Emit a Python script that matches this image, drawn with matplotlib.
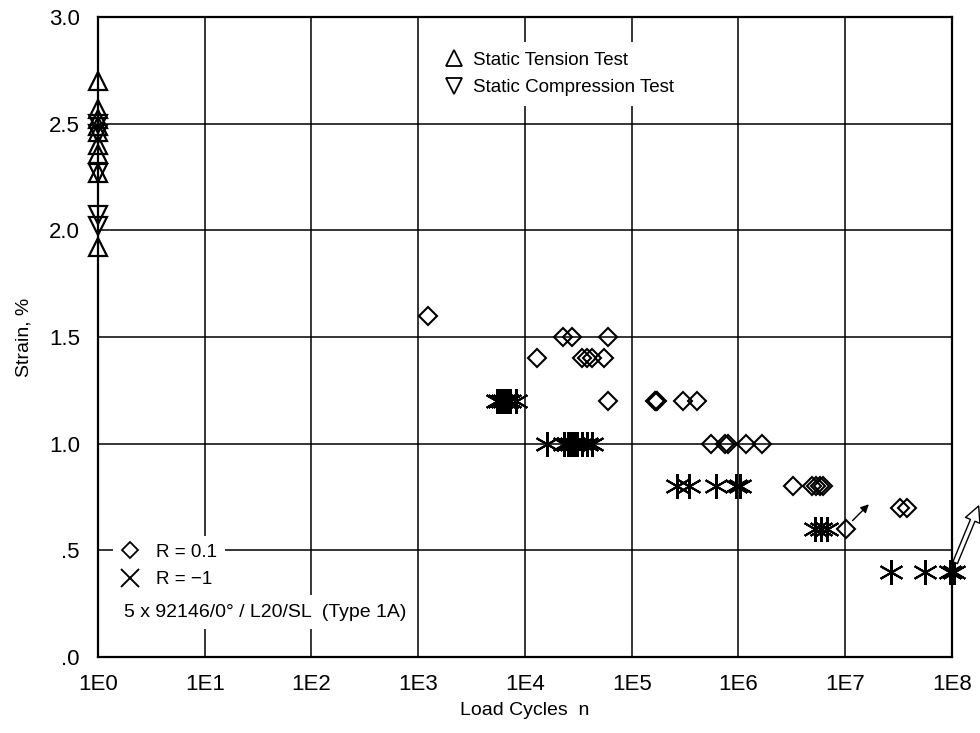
import matplotlib
matplotlib.use("Agg")
import matplotlib.pyplot as plt
from matplotlib.lines import Line2D
import numpy as np

plt.rcParams['font.family'] = ['Liberation Sans', 'DejaVu Sans']

# ---- data (log10 of load cycles, strain %) ----
tension_strain = [2.70, 2.57, 2.52, 2.49, 2.46, 2.40, 2.36, 2.27, 1.92]
compression_strain = [2.50, 2.45, 2.27, 2.07, 2.02]

r01_logn = [3.09, 4.11, 4.36, 4.44, 4.78, 4.53, 4.58, 4.63, 4.74, 4.78,
            5.22, 5.23, 5.24, 5.48, 5.61,
            5.74, 5.87, 5.90, 6.07, 6.22,
            6.51, 6.69, 6.73, 6.76, 6.79,
            7.51, 7.58, 7.01]
r01_strain = [1.60, 1.40, 1.50, 1.50, 1.50, 1.40, 1.40, 1.40, 1.40, 1.20,
              1.20, 1.20, 1.20, 1.20, 1.20,
              1.00, 1.00, 1.00, 1.00, 1.00,
              0.80, 0.80, 0.80, 0.80, 0.80,
              0.70, 0.70, 0.60]

rm1_logn = [3.74, 3.76, 3.78, 3.80, 3.82, 3.84, 3.86, 3.92,
            4.21, 4.37, 4.40, 4.43, 4.46, 4.49, 4.53, 4.58, 4.63,
            5.42, 5.54, 5.79, 5.98, 6.01,
            6.72, 6.77, 6.83,
            7.43, 7.75, 7.98, 8.02]
rm1_strain = [1.20, 1.20, 1.20, 1.20, 1.20, 1.20, 1.20, 1.20,
              1.00, 1.00, 1.00, 1.00, 1.00, 1.00, 1.00, 1.00, 1.00,
              0.80, 0.80, 0.80, 0.80, 0.80,
              0.60, 0.60, 0.60,
              0.40, 0.40, 0.40, 0.40]

x_ticks = [1e0, 1e1, 1e2, 1e3, 1e4, 1e5, 1e6, 1e7, 1e8]
x_ticklabels = ["1E0", "1E1", "1E2", "1E3", "1E4", "1E5", "1E6", "1E7", "1E8"]
y_ticks = [0.0, 0.5, 1.0, 1.5, 2.0, 2.5, 3.0]
y_ticklabels = [".0", ".5", "1.0", "1.5", "2.0", "2.5", "3.0"]

fig = plt.figure(figsize=(9.8, 7.33), dpi=100)
ax = fig.add_axes([0.1, 0.1037, 0.8714, 0.8731])

ax.set_xscale('log')
ax.set_xlim(1e0, 1e8)
ax.set_ylim(0, 3.0)
ax.set_xticks(x_ticks)
ax.set_xticklabels(x_ticklabels)
ax.set_yticks(y_ticks)
ax.set_yticklabels(y_ticklabels)
ax.minorticks_off()
ax.tick_params(axis='x', length=0, labelsize=16, pad=12)
ax.tick_params(axis='y', length=0, labelsize=16, pad=13)
ax.grid(True, color='black', lw=1.1)
ax.set_axisbelow(True)
for s in ax.spines.values():
    s.set_linewidth(1.6)

ax.set_xlabel("Load Cycles  n", fontsize=14, labelpad=5)
ax.set_ylabel("Strain, %", fontsize=14, labelpad=12)

star = (6, 2, 0)
ax.plot([1.0] * len(tension_strain), tension_strain, ls='none', marker='^',
        ms=13, mfc='none', mec='black', mew=1.6, clip_on=False, zorder=3)
ax.plot([1.0] * len(compression_strain), compression_strain, ls='none', marker='v',
        ms=13, mfc='none', mec='black', mew=1.6, clip_on=False, zorder=3)

ax.plot(10 ** np.array(r01_logn), r01_strain, ls='none', marker='D',
        ms=9.5, mfc='none', mec='black', mew=1.5, clip_on=False, zorder=3)
ax.plot(10 ** np.array(rm1_logn), rm1_strain, ls='none', marker=star,
        ms=18, mfc='none', mec='black', mew=1.5, clip_on=False, zorder=3)

# run-out arrows
ax.annotate("", xy=(10 ** 7.24, 0.725), xytext=(10 ** 7.05, 0.63),
            arrowprops=dict(arrowstyle='-|>', color='black', lw=1.0,
                            mutation_scale=12), annotation_clip=False)
ax.annotate("", xy=(10 ** 8.26, 0.72), xytext=(10 ** 8.02, 0.43),
            arrowprops=dict(arrowstyle='simple,head_width=0.8,head_length=0.8,tail_width=0.25',
                            fc='white', ec='black', lw=1.0, mutation_scale=14),
            annotation_clip=False)

# legends
h_static = [Line2D([], [], ls='none', marker='^', ms=11, mfc='none', mec='black', mew=1.3),
            Line2D([], [], ls='none', marker='v', ms=11, mfc='none', mec='black', mew=1.3)]
leg1 = ax.legend(h_static, ["Static Tension Test", "Static Compression Test"],
                 loc='upper left', bbox_to_anchor=(0.386, 0.975), frameon=True,
                 fontsize=13.5, handlelength=0.8, handletextpad=0.6,
                 labelspacing=0.55, borderpad=0.5)
leg1.get_frame().set_facecolor('white')
leg1.get_frame().set_edgecolor('none')
leg1.get_frame().set_alpha(1)
ax.add_artist(leg1)

h_r = [Line2D([], [], ls='none', marker='D', ms=8.5, mfc='none', mec='black', mew=1.3),
       Line2D([], [], ls='none', marker='x', ms=13, mfc='none', mec='black', mew=1.4)]
leg2 = ax.legend(h_r, ["R = 0.1", "R = \u22121"],
                 loc='lower left', bbox_to_anchor=(0.007, 0.081), frameon=True,
                 fontsize=13.5, handlelength=1.0, handletextpad=0.9,
                 labelspacing=0.55, borderpad=0.4)
leg2.get_frame().set_facecolor('white')
leg2.get_frame().set_edgecolor('none')
leg2.get_frame().set_alpha(1)

ax.text(0.031, 0.070, "5 x 92146/0\u00b0 / L20/SL  (Type 1A)", transform=ax.transAxes,
        fontsize=14, ha='left', va='center',
        bbox=dict(facecolor='white', edgecolor='none', pad=6), zorder=4)

fig.savefig("out.png", dpi=100)
